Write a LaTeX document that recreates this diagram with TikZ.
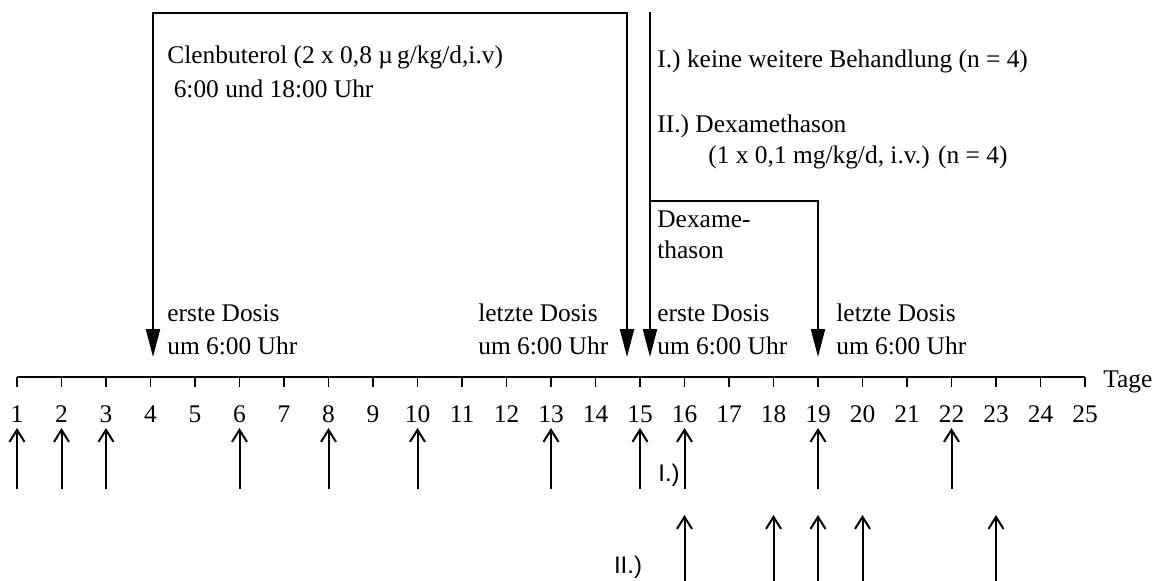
\documentclass[tikz,border=0pt]{standalone}
\usepackage{fontspec}
\setmainfont{Liberation Serif}
\newfontfamily\grpfont{Liberation Sans}
\usetikzlibrary{arrows.meta}

\tikzset{
  txt/.style={anchor=base west,inner sep=0pt,font=\fontsize{12.7}{15}\selectfont},
  daynum/.style={anchor=base,inner sep=0pt,font=\fontsize{12.7}{15}\selectfont},
  grp/.style={inner sep=0pt,font=\grpfont\fontsize{12}{14}\selectfont},
  dose/.style={line width=1pt,line join=miter,-{Triangle[length=14pt,width=7pt]}},
  gabe/.style={line width=1pt,-{Straight Barb[length=6pt,width=7.5pt]}}
}

\begin{document}
\begin{tikzpicture}[x=0.5pt,y=-0.5pt]
    \useasboundingbox (0,0) rectangle (1161,580);
    % Zeitachse
    \coordinate (t1) at (17,377);
    \coordinate (t25) at (1085,377);
    \draw[line width=1pt] (t1) -- (t25);
    \foreach \d in {1,...,25} {
        \coordinate (d\d) at ({17+(\d-1)*44.5},377);
        \draw[line width=0.8pt] (d\d) -- ++(0,10);
        \node[daynum] (n\d) at ({17+(\d-1)*44.5},422) {\d};
    }
    \node[txt] (tage) at (1103,387) {Tage};

    % Clenbuterol
    \coordinate (c1) at (153,13);
    \coordinate (c2) at (627,13);
    \coordinate (k1) at (153,357);
    \coordinate (k2) at (627,357);
    \draw[dose,{Triangle[length=14pt,width=7pt]}-{Triangle[length=14pt,width=7pt]}] (k1) -- (c1) -- (c2) -- (k2);
    \node[txt] (clen1) at (167,63) {Clenbuterol (2 x 0,8 µ\,g/kg/d,i.v)};
    \node[txt] (clen2) at (167,97) {\ 6:00 und 18:00 Uhr};
    \node[txt] (erst1) at (167,321) {erste Dosis};
    \node[txt] (erst1b) at (167,354) {um 6:00 Uhr};
    \node[txt] (letz1) at (478,321) {letzte Dosis};
    \node[txt] (letz1b) at (478,354) {um 6:00 Uhr};

    % Dexamethason
    \coordinate (x1) at (650,12);
    \coordinate (x2) at (650,357);
    \coordinate (x3) at (650,201);
    \coordinate (x4) at (818,357);
    \draw[dose] (x1) -- (x2);
    \draw[dose] (x3) -| (x4);
    \node[txt] (grp1) at (657,67) {I.) keine weitere Behandlung (n = 4)};
    \node[txt] (grp2) at (657,132) {II.) Dexamethason};
    \node[txt] (grp2b) at (708,163) {(1 x 0,1 mg/kg/d, i.v.) (n = 4)};
    \node[txt] (dexa) at (657,227) {Dexame-};
    \node[txt] (dexab) at (657,258) {thason};
    \node[txt] (erst2) at (657,321) {erste Dosis};
    \node[txt] (erst2b) at (657,354) {um 6:00 Uhr};
    \node[txt] (letz2) at (836,321) {letzte Dosis};
    \node[txt] (letz2b) at (836,354) {um 6:00 Uhr};

    % Gruppe I
    \foreach \d in {1,2,3,6,8,10,13,15,16,19,22} {
        \coordinate (ia\d) at ({17+(\d-1)*44.5},489);
        \coordinate (ib\d) at ({17+(\d-1)*44.5},428);
        \draw[gabe] (ia\d) -- (ib\d);
    }
    \node[grp] (lab1) at (669,475) {I.)};

    % Gruppe II
    \foreach \d in {16,18,19,20,23} {
        \coordinate (iia\d) at ({17+(\d-1)*44.5},582);
        \coordinate (iib\d) at ({17+(\d-1)*44.5},515);
        \draw[gabe] (iia\d) -- (iib\d);
    }
    \node[grp] (lab2) at (628,567) {II.)};
\end{tikzpicture}
\end{document}
